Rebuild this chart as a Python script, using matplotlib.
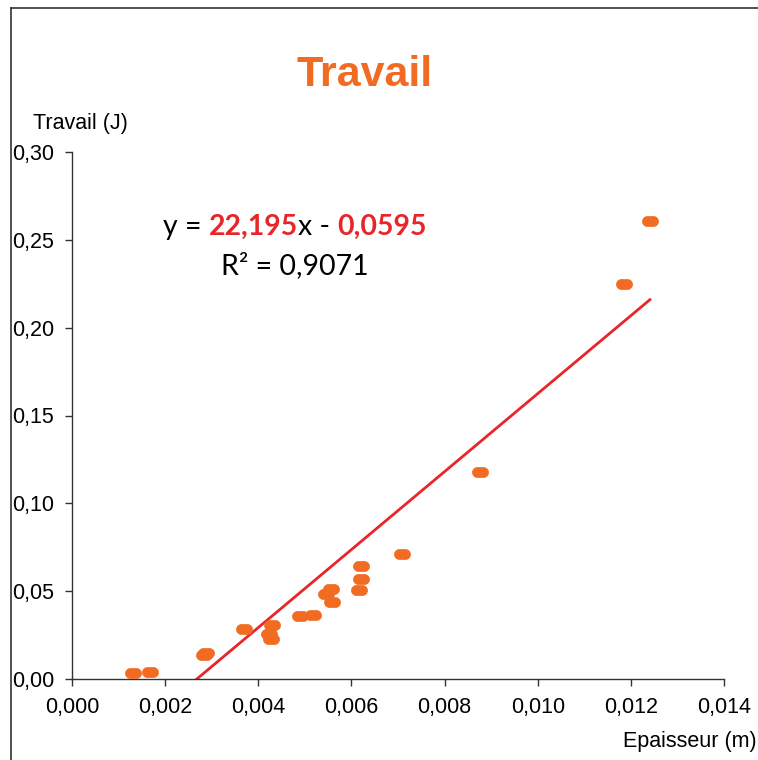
import numpy as np
import matplotlib
matplotlib.use("Agg")
import matplotlib.pyplot as plt
from matplotlib.path import Path
from matplotlib.lines import Line2D
from matplotlib.offsetbox import TextArea, HPacker, AnchoredOffsetbox

# Data
epaisseur = [0.00131, 0.00167, 0.00284, 0.00288, 0.00369, 0.00429, 0.00423, 0.00427,
             0.00490, 0.00518, 0.00545, 0.00556, 0.00558, 0.00616, 0.00620, 0.00620,
             0.00709, 0.00876, 0.01185, 0.01241]
travail = [0.0034, 0.0038, 0.0136, 0.0148, 0.0285, 0.0310, 0.0256, 0.0228,
           0.0359, 0.0364, 0.0484, 0.0513, 0.0438, 0.0507, 0.0570, 0.0644,
           0.0712, 0.1180, 0.2249, 0.2608]
slope = 22.195
intercept = -0.0595
r2_text = "R² = 0,9071"
xticks = [0.000, 0.002, 0.004, 0.006, 0.008, 0.010, 0.012, 0.014]
yticks = [0.00, 0.05, 0.10, 0.15, 0.20, 0.25, 0.30]

orange = "#F26B22"
red = "#E8252A"

# stadium (rounded rectangle) marker
def stadium(w=1.6, h=1.0, n=12):
    r = h / 2
    cx = w / 2 - r
    t1 = np.linspace(-np.pi / 2, np.pi / 2, n)
    right = np.column_stack([cx + r * np.cos(t1), r * np.sin(t1)])
    t2 = np.linspace(np.pi / 2, 3 * np.pi / 2, n)
    left = np.column_stack([-cx + r * np.cos(t2), r * np.sin(t2)])
    v = np.vstack([right, left, right[:1]])
    codes = [Path.MOVETO] + [Path.LINETO] * (len(v) - 2) + [Path.CLOSEPOLY]
    return Path(v, codes)

plt.rcParams['font.family'] = ['Liberation Sans', 'DejaVu Sans']

fig = plt.figure(figsize=(7.58, 7.60), dpi=100)
ax = fig.add_axes([72 / 758, 81 / 760, (724 - 72) / 758, (679 - 152) / 760])

ax.plot(epaisseur, travail, linestyle='none', marker=stadium(), markersize=11.5,
        markerfacecolor=orange, markeredgecolor=orange, markeredgewidth=0.5, zorder=3)

xl = np.array([min(epaisseur), max(epaisseur)])
ax.plot(xl, slope * xl + intercept, color=red, linewidth=2.0, zorder=2)

ax.set_xlim(0, 0.014)
ax.set_ylim(0, 0.30)
ax.set_xticks(xticks)
ax.set_yticks(yticks)
ax.set_xticklabels([f"{v:.3f}".replace('.', ',') for v in xticks])
ax.set_yticklabels([f"{v:.2f}".replace('.', ',') for v in yticks])
ax.tick_params(axis='both', direction='out', length=5, width=1, labelsize=15.5, color='#333333')
ax.tick_params(axis='x', pad=8)
ax.tick_params(axis='y', pad=8)
for s in ['top', 'right']:
    ax.spines[s].set_visible(False)
for s in ['left', 'bottom']:
    ax.spines[s].set_color('#333333')
    ax.spines[s].set_linewidth(1)

# Titles and labels
fig.text(365 / 758, 1 - 75 / 760, "Travail", ha='center', va='center', fontsize=31,
         fontweight='bold', color=orange, family=['Liberation Sans Narrow', 'Liberation Sans', 'DejaVu Sans'])
fig.text(33 / 758, 1 - 123 / 760, "Travail (J)", ha='left', va='center', fontsize=15.5)
fig.text(757 / 758, 1 - 742 / 760, "Epaisseur (m)", ha='right', va='center', fontsize=15.5)

# Equation
eqfam = ['Lato', 'DejaVu Sans']
parts = [("y = ", 'black', 'normal'), ("22,195", red, 'bold'), ("x - ", 'black', 'normal'),
         ("0,0595", red, 'bold')]
boxes = [TextArea(t, textprops=dict(color=c, fontweight=w, fontsize=20.5, family=eqfam)) for t, c, w in parts]
hp = HPacker(children=boxes, align='baseline', pad=0, sep=0)
ab = AnchoredOffsetbox(loc='center', child=hp, frameon=False,
                       bbox_to_anchor=(295 / 758, 1 - 227 / 760), bbox_transform=fig.transFigure, pad=0, borderpad=0)
fig.add_artist(ab)
fig.text(295 / 758, 1 - 266 / 760, r2_text, ha='center', va='center', fontsize=20.5, family=eqfam)

# figure border (left and top)
fig.add_artist(Line2D([11 / 758, 11 / 758], [0, 1 - 8 / 760], transform=fig.transFigure, color='#333333', lw=1.2))
fig.add_artist(Line2D([11 / 758, 1], [1 - 8 / 760, 1 - 8 / 760], transform=fig.transFigure, color='#333333', lw=1.2))

fig.savefig("out.png", dpi=100)
